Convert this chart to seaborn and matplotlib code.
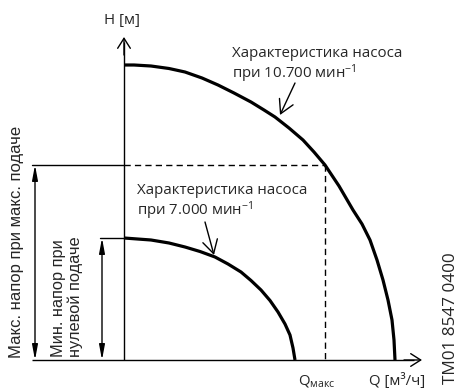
import matplotlib
matplotlib.use("Agg")
import matplotlib.pyplot as plt
import seaborn as sns
import pandas as pd

sns.set_theme(style="white")
plt.rcParams["font.family"] = ["Open Sans", "DejaVu Sans"]
plt.rcParams["mathtext.fontset"] = "custom"
plt.rcParams["mathtext.rm"] = "Open Sans"
plt.rcParams["mathtext.it"] = "Open Sans"

# ---- data (schematic units: Q flow, H head) ----
q_high = [0, 10, 27, 45, 61, 78, 94, 110, 127, 140, 151, 165, 179, 190, 201,
          215, 229, 238, 246, 253, 259, 264, 268, 270, 271]
h_high = [295, 295, 294, 291.5, 288, 282, 275, 267, 258, 250, 243, 232, 220,
          208, 195, 174, 150, 136, 120, 100, 80, 60, 40, 20, 0]
q_low = [0, 27, 45, 61, 76, 91, 104, 117, 127, 137, 146, 154, 161, 166, 169, 171]
h_low = [122, 120, 117, 113, 108.5, 103, 96, 88, 79.5, 70, 59.5, 48, 36, 25, 12, 0]
q_max = 201          # flow at max head point
h_max = 195          # head at Q_max on high-speed curve
h_min = 122          # shut-off head at low speed

label_high = "Характеристика насоса\nпри 10.700 мин$^{\\mathregular{-1}}$"
label_low = "Характеристика насоса\nпри 7.000 мин$^{\\mathregular{-1}}$"
label_hmax = "Макс. напор при макс. подаче"
label_hmin = "Мин. напор при\nнулевой подаче"
label_q = "Q [м³/ч]"
label_qmax = "Q$_{\\mathregular{макс}}$"
label_h = "H [м]"
code = "TM01 8547 0400"

df = pd.concat([
    pd.DataFrame({"Q": q_high, "H": h_high, "curve": "high"}),
    pd.DataFrame({"Q": q_low, "H": h_low, "curve": "low"}),
])

fig = plt.figure(figsize=(4.58, 3.89), dpi=100)
ax = fig.add_axes([0, 0, 1, 1])
ax.set_xlim(-124, 334)
ax.set_ylim(-29, 360)
ax.axis("off")

sns.lineplot(data=df, x="Q", y="H", units="curve", estimator=None, sort=False,
             color="black", lw=2.3, ax=ax, legend=False,
             solid_joinstyle="round", solid_capstyle="butt")

k = "black"
thin = 1.0
# axes with open arrows
ax.plot([-92, 290], [0, 0], color=k, lw=thin, solid_capstyle="butt")
ax.plot([0, 0], [0, 318], color=k, lw=thin, solid_capstyle="butt")
open_arrow = dict(arrowstyle="->,head_length=0.6,head_width=0.38", lw=thin,
                  color=k, shrinkA=0, shrinkB=0, mutation_scale=12)
ax.annotate("", xy=(298, 0), xytext=(280, 0), arrowprops=open_arrow)
ax.annotate("", xy=(0, 323), xytext=(0, 305), arrowprops=open_arrow)

# extension lines
ax.plot([-92, 0], [h_max, h_max], color=k, lw=thin)
ax.plot([0, q_max], [h_max, h_max], color=k, lw=thin, ls=(0, (4.5, 3)))
ax.plot([q_max, q_max], [h_max, 0], color=k, lw=thin, ls=(0, (4.5, 3)))
ax.plot([-24, 0], [h_min, h_min], color=k, lw=thin)

# dimension arrows
dim = dict(arrowstyle="<|-|>,head_length=0.75,head_width=0.14", lw=thin,
           color=k, shrinkA=0, shrinkB=0, mutation_scale=12)
ax.annotate("", xy=(-89, h_max), xytext=(-89, 0), arrowprops=dim)
ax.annotate("", xy=(-22, h_min), xytext=(-22, 0), arrowprops=dim)

# leader arrows
lead = dict(arrowstyle="->,head_length=0.8,head_width=0.45", lw=thin,
            color=k, shrinkA=0, shrinkB=0, mutation_scale=12)
ax.annotate("", xy=(156, 245), xytext=(171, 277), arrowprops=lead)
ax.annotate("", xy=(90, 105), xytext=(81, 138), arrowprops=lead)

fs = 10.8
ax.text(108, 314, label_high, fontsize=fs, ha="left", va="top", linespacing=1.1)
ax.text(13, 177, label_low, fontsize=fs, ha="left", va="top", linespacing=1.1)
ax.text(-2, 340, label_h, fontsize=fs, ha="center", va="center")
ax.text(193, -21, label_qmax, fontsize=fs, ha="center", va="center")
ax.text(273, -21, label_q, fontsize=fs, ha="center", va="center")
ax.text(327, -24, code, fontsize=12.3, ha="center", va="bottom", rotation=90)

ax.text(-107, 2, label_hmax, fontsize=12, ha="center", va="bottom", rotation=90,
        family=["Liberation Sans", "DejaVu Sans"])
ax.text(-57, 3, label_hmin, fontsize=11.8, ha="center", va="bottom", rotation=90,
        multialignment="left", linespacing=1.05,
        family=["Liberation Sans", "DejaVu Sans"])

fig.savefig("out.png", dpi=100)
